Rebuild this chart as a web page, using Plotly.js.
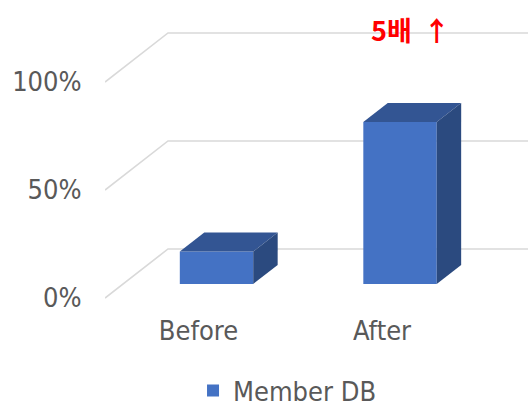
<!DOCTYPE html>
<html>
<head>
<meta charset="utf-8">
<script src="https://cdn.plot.ly/plotly-3.0.1.min.js"></script>
<style>html,body{margin:0;padding:0;background:#fff;}#chart{width:528px;height:407px;}</style>
</head>
<body>
<div id="chart"></div>
<script>
// ---- data ----
const categories = ['Before', 'After'];
const memberDB = [15, 75];
const seriesName = 'Member DB';
const yTicks = [0, 50, 100];
const yTickLabels = ['0%', '50%', '100%'];
const calloutText = '5배 &#8201;↑';

// ---- 3D look (styling / projection constants) ----
const DX = 0.3433;   // full floor depth, x-axis units
const DY = 22.69;    // full floor depth, y-axis units
const F0 = 0.286;    // bar front depth fraction
const F1 = 0.674;    // bar back depth fraction
const BW = 0.4;      // bar width
const X_RANGE = [-0.5095, 1.7956];
const Y_RANGE = [-5.556, 133.333];
const FRONT = '#4472C4', TOP = '#335593', SIDE = '#2B4A7F', GRID = '#D9D9D9';
const FONT = '"Liberation Sans Narrow", "DejaVu Sans Condensed", "Roboto", sans-serif';
const FS = 27;

const xIdx = categories.map((c, i) => i);

const shapes = [];
// oblique gridlines (floor edge + back wall)
yTicks.forEach(t => {
  const x0 = X_RANGE[0];
  shapes.push({
    type: 'path', xref: 'x', yref: 'y', layer: 'below',
    path: `M ${x0} ${t} L ${x0 + DX} ${t + DY} L ${X_RANGE[1] + 1} ${t + DY}`,
    line: {color: GRID, width: 1.6}
  });
});
// top and side faces of each bar
memberDB.forEach((v, i) => {
  const xl = xIdx[i] - BW / 2, xr = xIdx[i] + BW / 2;
  const a = F0, b = F1;
  shapes.push({
    type: 'path', xref: 'x', yref: 'y', layer: 'above',
    path: `M ${xl + a*DX} ${v + a*DY} L ${xr + a*DX} ${v + a*DY} L ${xr + b*DX} ${v + b*DY} L ${xl + b*DX} ${v + b*DY} Z`,
    fillcolor: TOP, line: {width: 0}
  });
  shapes.push({
    type: 'path', xref: 'x', yref: 'y', layer: 'above',
    path: `M ${xr + a*DX} ${a*DY} L ${xr + b*DX} ${b*DY} L ${xr + b*DX} ${v + b*DY} L ${xr + a*DX} ${v + a*DY} Z`,
    fillcolor: SIDE, line: {width: 0}
  });
});

const trace = {
  type: 'bar', name: seriesName,
  x: xIdx, y: memberDB,
  base: memberDB.map(() => F0 * DY),
  width: BW, offset: -BW / 2 + F0 * DX,
  marker: {color: FRONT, line: {width: 0}},
  hoverinfo: 'skip', showlegend: true
};

const layout = {
  width: 528, height: 407,
  margin: {l: 105, r: 0, t: 10, b: 97, pad: 0, autoexpand: false},
  paper_bgcolor: '#fff', plot_bgcolor: '#fff',
  font: {family: FONT, size: FS, color: '#595959'},
  showlegend: true,
  xaxis: {
    type: 'linear', range: X_RANGE, fixedrange: true, automargin: false,
    tickmode: 'array', tickvals: xIdx, ticktext: categories,
    showgrid: false, zeroline: false, showline: false,
    ticks: '', ticklabelstandoff: 2,
    tickfont: {family: FONT, size: FS, color: '#595959'}
  },
  yaxis: {
    range: Y_RANGE, fixedrange: true, automargin: false,
    tickmode: 'array', tickvals: yTicks, ticktext: yTickLabels,
    showgrid: false, zeroline: false, showline: false,
    ticks: 'outside', ticklen: 17, tickcolor: 'rgba(0,0,0,0)',
    tickfont: {family: FONT, size: FS, color: '#595959'}
  },
  legend: {
    orientation: 'h', x: 0.4315, xanchor: 'center', y: -0.27, yanchor: 'middle',
    font: {family: FONT, size: FS, color: '#595959'},
    bgcolor: 'rgba(0,0,0,0)'
  },
  shapes: shapes,
  annotations: [{
    x: 1.1526, y: 124.2, xref: 'x', yref: 'y', showarrow: false,
    text: calloutText,
    font: {family: '"Noto Sans CJK KR", sans-serif', size: 27, color: '#FF0000', weight: 'bold'}
  }]
};

Plotly.newPlot('chart', [trace], layout, {staticPlot: true, displayModeBar: false});
</script>
</body>
</html>
